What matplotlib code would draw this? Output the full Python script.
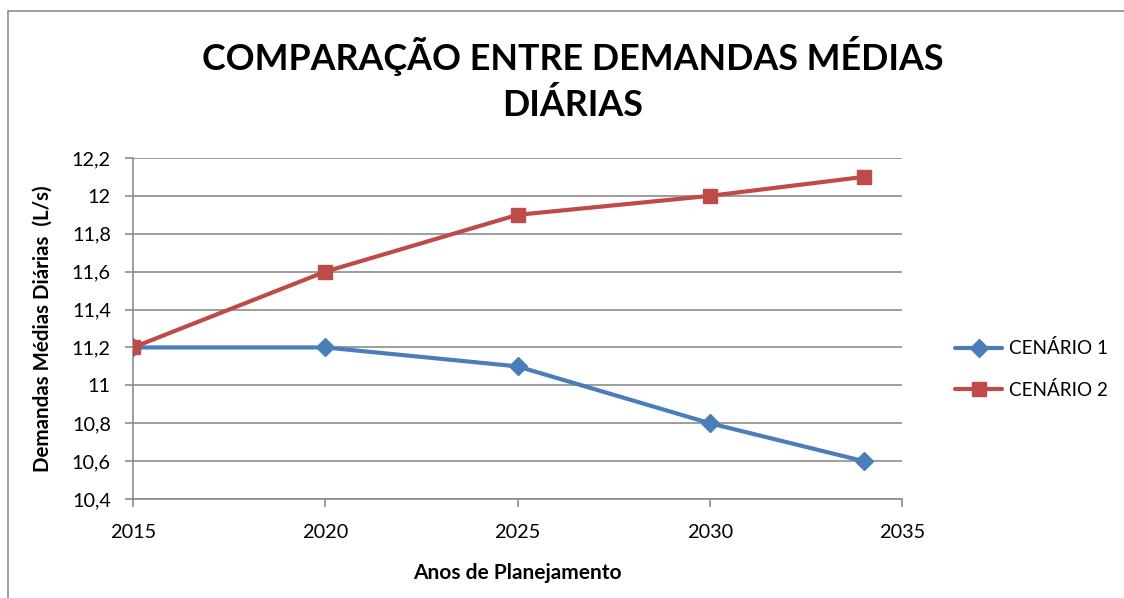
import matplotlib
matplotlib.use("Agg")
import matplotlib.pyplot as plt
from matplotlib.patches import Rectangle
from matplotlib.ticker import FuncFormatter

# ── Data ────────────────────────────────────────────────────
ANOS = [2015, 2020, 2025, 2030, 2034]
CENARIO_1 = [11.2, 11.2, 11.1, 10.8, 10.6]
CENARIO_2 = [11.2, 11.6, 11.9, 12.0, 12.1]
SERIES_NAMES = ["CENÁRIO 1", "CENÁRIO 2"]

BLUE = "#4A7EBB"
RED = "#BE4B48"
GRID = "#8C8C8C"

plt.rcParams["font.family"] = ["Lato", "DejaVu Sans"]

fig = plt.figure(figsize=(11.24, 5.98), dpi=100)
fig.patch.set_facecolor("white")

# outer chart frame (runs off the right and bottom edges)
fig.patches.append(Rectangle((8 / 1124, -0.05), 1.2, 1 - 11 / 598 + 0.05,
                             transform=fig.transFigure, fill=False,
                             edgecolor="#8C8C8C", lw=1.2))

ax = fig.add_axes([133 / 1124, 1 - 499 / 598, (902 - 133) / 1124, (499 - 158) / 598])

ax.plot(ANOS, CENARIO_1, color=BLUE, lw=3, marker="D", ms=9.5,
        markerfacecolor=BLUE, markeredgecolor=BLUE, label=SERIES_NAMES[0],
        solid_capstyle="round", zorder=3)
ax.plot(ANOS, CENARIO_2, color=RED, lw=3, marker="s", ms=10.5,
        markerfacecolor=RED, markeredgecolor=RED, label=SERIES_NAMES[1],
        solid_capstyle="round", zorder=3)

ax.set_xlim(2015, 2035)
ax.set_ylim(10.4, 12.2)
ax.set_xticks(range(2015, 2036, 5))
ax.set_yticks([10.4 + 0.2 * i for i in range(10)])
ax.yaxis.set_major_formatter(FuncFormatter(lambda v, p: f"{v:.1f}".rstrip("0").rstrip(".").replace(".", ",")))

ax.grid(axis="y", color=GRID, lw=1.2)
ax.set_axisbelow(True)
for s in ["top", "right"]:
    ax.spines[s].set_visible(False)
for s in ["left", "bottom"]:
    ax.spines[s].set_color(GRID)
    ax.spines[s].set_linewidth(1.2)
ax.tick_params(axis="both", colors=GRID, length=6, width=1.2, labelsize=14.3,
               labelcolor="black")
ax.tick_params(axis="x", pad=12)
ax.tick_params(axis="y", pad=10)

ax.set_xlabel("Anos de Planejamento", fontsize=15, fontweight="bold", labelpad=16)
ax.set_ylabel("Demandas Médias Diárias  (L/s)", fontsize=14.8, fontweight="bold", labelpad=14)

fig.text(573 / 1124, 1 - 79 / 598, "COMPARAÇÃO ENTRE DEMANDAS MÉDIAS\nDIÁRIAS",
         ha="center", va="center", fontsize=25.8, fontweight="bold", linespacing=1.45)

leg = fig.legend(loc="center left", bbox_to_anchor=(955 / 1124, 1 - 369 / 598),
                 frameon=False, fontsize=13.6, handlelength=2.5, labelspacing=1.25,
                 handletextpad=0.35, borderpad=0, borderaxespad=0)

fig.savefig("out.png", dpi=100, facecolor="white")
